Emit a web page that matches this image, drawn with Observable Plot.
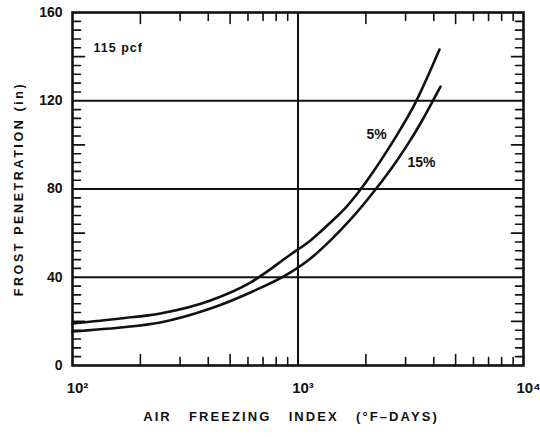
<!DOCTYPE html>
<html><head><meta charset="utf-8">
<script src="https://cdn.jsdelivr.net/npm/d3@7"></script>
<script src="https://cdn.jsdelivr.net/npm/@observablehq/plot@0.6"></script>
<style>
body{margin:0;background:#fff}
#chart{position:absolute;left:0;top:0}
</style>
</head><body><div id="chart"></div>
<script>
// Curve for 5% moisture content
const index5 = [100, 163, 245, 409, 615, 927, 1136, 1393, 1658, 1853, 2163, 2494, 2762, 3289, 4240];
const depth5 = [19, 21.3, 23.6, 29.5, 37.6, 50.3, 56.7, 64.8, 72.5, 78.5, 88, 97.6, 104.9, 118.4, 143.2];
// Curve for 15% moisture content
const index15 = [100, 163, 245, 409, 615, 927, 1136, 1393, 1711, 2184, 2762, 3090, 3532, 3946, 4285];
const depth15 = [15.4, 17.2, 19.5, 25.8, 33.1, 42.2, 48.5, 56.7, 66.2, 79.2, 93.3, 100.8, 110.6, 119.6, 126.4];

const seriesNames = ["5%", "15%"];
const yTickValues = [0, 40, 80, 120, 160];
const yGridValues = [40, 80, 120];
const xTickValues = [100, 1000, 10000];
const xTickText = ["10\u00b2", "10\u00b3", "10\u2074"];
const xGridValues = [1000];
const yTitle = "FROST PENETRATION (in)";
const xTitle = "AIR\u00a0\u00a0\u00a0FREEZING\u00a0\u00a0\u00a0INDEX\u00a0\u00a0\u00a0(\u00b0F\u2013DAYS)";
const noteText = "115 pcf";

const rows5 = index5.map((x, i) => ({x, y: depth5[i]}));
const rows15 = index15.map((x, i) => ({x, y: depth15[i]}));
const labelRows = [
  {text: seriesNames[0], x: index5[12], y: depth5[12]},
  {text: seriesNames[1], x: index15[10], y: depth15[10]}
];

// minor tick positions
const yMinor = d3.range(4, 160, 4).filter(v => v % 20 !== 0);
const yMid = [20, 60, 100, 140];
const xMinorAll = [100, 1000].flatMap(d => [2,3,4,5,6,7,8,9].map(k => k * d));
const xLong = xMinorAll.filter(v => [2,5].includes(Math.round(v / 10 ** Math.floor(Math.log10(v)))));
const xShort = xMinorAll.filter(v => !xLong.includes(v));

const tickShape = {draw(context, l) { context.moveTo(0, 0); context.lineTo(0, -l); }};
const ink = "#111";
const font = "Liberation Sans, Arial, sans-serif";

function ticks(data, chan, frameAnchor, rotate, length) {
  return Plot.vector(data, {[chan]: d => d, frameAnchor, rotate, length, anchor: "start",
    shape: tickShape, stroke: ink, strokeWidth: 1.6});
}

const chart = Plot.plot({
  width: 540,
  height: 437,
  marginLeft: 72,
  marginRight: 17,
  marginTop: 12,
  marginBottom: 72,
  style: {fontFamily: font, color: ink, background: "#fff"},
  x: {type: "log", domain: [100, 10000], axis: null},
  y: {domain: [0, 160]},
  marks: [
    Plot.ruleY(yGridValues, {stroke: ink, strokeWidth: 2}),
    Plot.ruleX(xGridValues, {stroke: ink, strokeWidth: 2}),
    ticks(yMinor, "y", "left", 90, 8),
    ticks(yMid, "y", "left", 90, 12),
    ticks(yMinor, "y", "right", -90, 8),
    ticks(yMid, "y", "right", -90, 12),
    ticks(xShort, "x", "bottom", 0, 8),
    ticks(xLong, "x", "bottom", 0, 11),
    ticks(xShort, "x", "top", 180, 8),
    ticks(xLong, "x", "top", 180, 11),
    Plot.frame({stroke: ink, strokeWidth: 2.6}),
    Plot.line(rows5, {x: "x", y: "y", curve: "monotone-x", stroke: ink, strokeWidth: 2.6}),
    Plot.line(rows15, {x: "x", y: "y", curve: "monotone-x", stroke: ink, strokeWidth: 2.6}),
    Plot.axisY(yTickValues, {tickSize: 0, tickPadding: 10, fontSize: 14, fontWeight: "bold", label: null, fill: ink}),
    Plot.text(xTickValues, {x: d => d, frameAnchor: "bottom", text: d => xTickText[xTickValues.indexOf(d)],
      dx: 5, dy: 27, fontSize: 15, fontWeight: "bold", fill: ink}),
    Plot.text([yTitle], {text: d => d, frameAnchor: "left", textAnchor: "middle", rotate: -90, dx: -54, fontSize: 12.5, fontWeight: "bold", fill: ink}),
    Plot.text([xTitle], {text: d => d, frameAnchor: "bottom", textAnchor: "middle", dx: -7, dy: 55, fontSize: 13, fontWeight: "bold", fill: ink}),
    Plot.text([noteText], {text: d => d, frameAnchor: "top-left", textAnchor: "start", dx: 21, dy: 31, fontSize: 12.5, fontWeight: "bold", fill: ink}),
    Plot.text(labelRows, {x: "x", y: "y", text: "text", fontSize: 14, fontWeight: "bold", fill: ink,
      textAnchor: "middle"})
  ]
});
document.getElementById("chart").appendChild(chart);

// letter spacing to match the wide lettering
d3.select(chart).selectAll("text").each(function() {
  const t = this.textContent;
  if (t === yTitle) this.setAttribute("letter-spacing", "2.6");
  else if (t === xTitle) this.setAttribute("letter-spacing", "2.1");
  else if (t === noteText) this.setAttribute("letter-spacing", "1");
});
// offsets of the two curve labels from their anchor points on the curves
d3.select(chart).selectAll("text").each(function() {
  const t = this.textContent;
  if (t === seriesNames[0]) this.setAttribute("transform", (this.getAttribute("transform") || "") + " translate(-21,0)");
  if (t === seriesNames[1]) this.setAttribute("transform", (this.getAttribute("transform") || "") + " translate(24,3)");
});
</script>
</body></html>
